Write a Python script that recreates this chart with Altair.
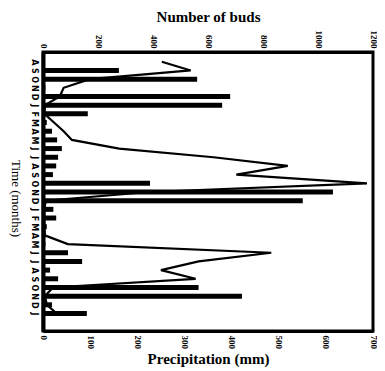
import altair as alt
import pandas as pd

months = list("ASONDJFMAMJJASONDJFMAMJJASONDJ")
precip = [3, 161, 327, 5, 397, 380, 95, 8, 19, 30,
          40, 32, 28, 21, 227, 615, 551, 22, 28, 8,
          5, 5, 53, 83, 15, 32, 330, 422, 19, 93]
buds = [432, 537, 170, 75, 61, 7, 5, 40, 75, 105,
        277, 620, 890, 703, 1178, 385, 10, 5, 5, 5,
        7, 90, 830, 566, 429, 555, 36, 7, 14, 50]

df = pd.DataFrame({"idx": list(range(len(months))), "month": months,
                   "precip": precip, "buds": buds})

label_expr = "[" + ",".join("'%s'" % m for m in months) + "][datum.value]"

yscale = alt.Scale(domain=[-0.55, 30.44], reverse=True, nice=False, zero=False)
yaxis = alt.Axis(values=list(range(30)), labelExpr=label_expr,
                 title="Time (months)", labelAngle=90, titleAngle=90,
                 labelOverlap=False, labelFlush=False,
                 ticks=False, grid=False, labelFont="DejaVu Sans",
                 labelFontSize=8, labelPadding=6,
                 titleX=-28, titleY=146, titleAlign="center",
                 titleBaseline="middle",
                 titleFontSize=13, titleFontWeight="normal",
                 domainWidth=4)

base = alt.Chart(df)

bars = base.mark_bar(orient="horizontal", size=5, color="black").encode(
    x=alt.X("precip:Q",
            scale=alt.Scale(domain=[0, 700], nice=False),
            axis=alt.Axis(orient="bottom", values=list(range(0, 701, 100)),
                          format="d", title="Precipitation (mm)", labelAngle=90,
                          labelPadding=4, titlePadding=3, ticks=False,
                          grid=False, labelFontSize=9, titleFontSize=15,
                          labelFlush=False)),
    y=alt.Y("idx:Q", scale=yscale, axis=yaxis),
)

line = base.mark_line(color="black", strokeWidth=2.2).encode(
    x=alt.X("buds:Q",
            scale=alt.Scale(domain=[0, 1200], nice=False),
            axis=alt.Axis(orient="top", values=list(range(0, 1201, 200)),
                          format="d", title="Number of buds", labelAngle=90,
                          labelPadding=4, titlePadding=6, ticks=False,
                          grid=False, labelFontSize=9, titleFontSize=15,
                          labelFlush=False)),
    y=alt.Y("idx:Q", scale=yscale, axis=yaxis),
    order="idx:Q",
)

chart = alt.layer(bars, line).resolve_scale(x="independent").properties(
    width=330, height=279,
    autosize=alt.AutoSizeParams(type="none"),
    padding={"left": 35, "top": 44, "right": 4, "bottom": 40},
).configure_view(stroke="black", strokeWidth=3).configure_axis(
    domainColor="black", domainWidth=3, labelColor="black", titleColor="black",
    labelFont="Liberation Serif", titleFont="Liberation Serif",
    labelFontWeight="bold", titleFontWeight="bold",
)

chart.save("out.html", embed_options={"renderer": "svg", "actions": False})
